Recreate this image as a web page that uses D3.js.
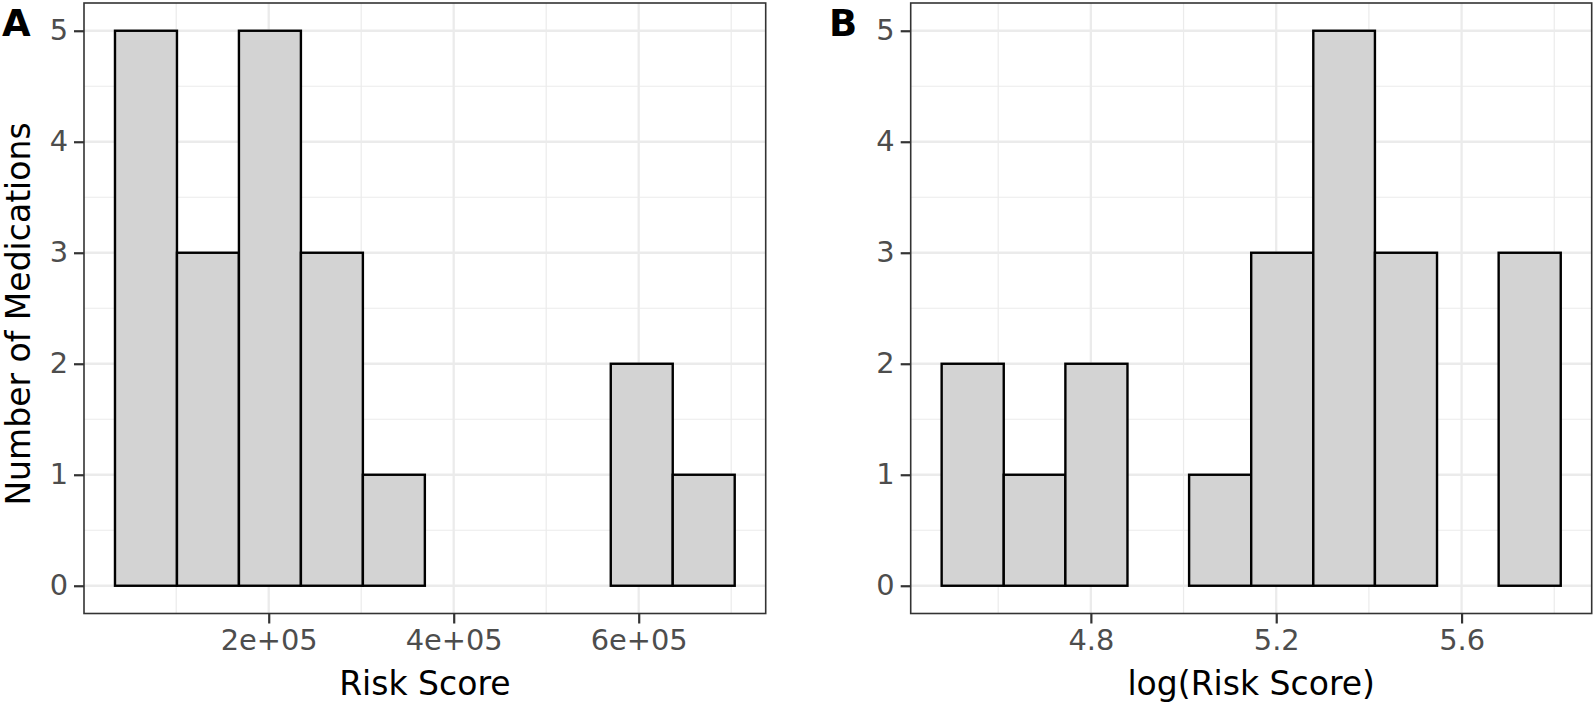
<!DOCTYPE html>
<html>
<head>
<meta charset="utf-8">
<script src="https://cdn.jsdelivr.net/npm/d3@7"></script>
<style>
  html, body { margin: 0; padding: 0; background: #fff; }
  svg { display: block; font-family: "DejaVu Sans", sans-serif; }
</style>
</head>
<body>
<svg id="chart" width="1594" height="706"></svg>
<script>
// ---------- data ----------
// Panel A: histogram of Risk Score
const edgesA  = [33800, 100800, 167800, 234800, 301800, 368800, 435800, 502800, 569800, 636800, 703800];
const countsA = [5, 3, 5, 3, 1, 0, 0, 0, 2, 1];
const ticksA  = [200000, 400000, 600000];
const tickLabelsA = ["2e+05", "4e+05", "6e+05"];
const minorA  = [100000, 300000, 500000, 700000];

// Panel B: histogram of log(Risk Score)
const edgesB  = [4.478, 4.612, 4.745, 4.879, 5.012, 5.146, 5.280, 5.413, 5.547, 5.680, 5.814];
const countsB = [2, 1, 2, 0, 1, 3, 5, 3, 0, 3];
const ticksB  = [4.8, 5.2, 5.6];
const tickLabelsB = ["4.8", "5.2", "5.6"];
const minorB  = [4.6, 5.0, 5.4, 5.8];

const yTicks = [0, 1, 2, 3, 4, 5];
const yMinor = [0.5, 1.5, 2.5, 3.5, 4.5];
const yTitle = "Number of Medications";

const panels = [
  { tag: "A", edges: edgesA, counts: countsA, ticks: ticksA, labels: tickLabelsA, minor: minorA,
    title: "Risk Score", left: 84, right: 765.7, tagX: 2 },
  { tag: "B", edges: edgesB, counts: countsB, ticks: ticksB, labels: tickLabelsB, minor: minorB,
    title: "log(Risk Score)", left: 910.7, right: 1591.7, tagX: 829 }
];

const pTop = 3, pBottom = 613.5;
const svg = d3.select("#chart");

// measure font sizes so text widths match the reference
function fitSize(str, targetWidth, weight) {
  const t = svg.append("text").attr("font-size", 100).attr("font-weight", weight || "normal").text(str);
  const w = t.node().getComputedTextLength();
  t.remove();
  return w > 0 ? 100 * targetWidth / w : 30;
}
const titleSize = fitSize("Risk Score", 171.5);
const tickSize = fitSize("2e+05", 97);

const y = d3.scaleLinear().domain([-0.25, 5.25]).range([pBottom, pTop]);

panels.forEach(p => {
  const lo = p.edges[0], hi = p.edges[p.edges.length - 1];
  const pad = (hi - lo) * 0.05;
  const x = d3.scaleLinear().domain([lo - pad, hi + pad]).range([p.left, p.right]);
  const g = svg.append("g");

  g.append("rect").attr("x", p.left).attr("y", pTop)
    .attr("width", p.right - p.left).attr("height", pBottom - pTop).attr("fill", "#fff");

  // minor grid
  g.selectAll(".vminor").data(p.minor).join("line")
    .attr("x1", d => x(d)).attr("x2", d => x(d)).attr("y1", pTop).attr("y2", pBottom)
    .attr("stroke", "#EBEBEB").attr("stroke-width", 1.2);
  g.selectAll(".hminor").data(yMinor).join("line")
    .attr("x1", p.left).attr("x2", p.right).attr("y1", d => y(d)).attr("y2", d => y(d))
    .attr("stroke", "#EBEBEB").attr("stroke-width", 1.2);
  // major grid
  g.selectAll(".vmajor").data(p.ticks).join("line")
    .attr("x1", d => x(d)).attr("x2", d => x(d)).attr("y1", pTop).attr("y2", pBottom)
    .attr("stroke", "#EBEBEB").attr("stroke-width", 2.3);
  g.selectAll(".hmajor").data(yTicks).join("line")
    .attr("x1", p.left).attr("x2", p.right).attr("y1", d => y(d)).attr("y2", d => y(d))
    .attr("stroke", "#EBEBEB").attr("stroke-width", 2.3);

  // bars
  const bins = p.counts.map((c, i) => ({ x0: p.edges[i], x1: p.edges[i + 1], n: c }));
  g.selectAll(".bar").data(bins).join("rect")
    .attr("x", d => x(d.x0)).attr("width", d => x(d.x1) - x(d.x0))
    .attr("y", d => y(d.n)).attr("height", d => y(0) - y(d.n))
    .attr("fill", "#D3D3D3").attr("stroke", "#000").attr("stroke-width", 2.4);

  // panel border
  g.append("rect").attr("x", p.left).attr("y", pTop)
    .attr("width", p.right - p.left).attr("height", pBottom - pTop)
    .attr("fill", "none").attr("stroke", "#333333").attr("stroke-width", 1.6);

  // x axis
  const xAxis = d3.axisBottom(x).tickValues(p.ticks).tickFormat((d, i) => p.labels[i])
    .tickSize(10).tickPadding(6);
  const xa = g.append("g").attr("transform", `translate(0,${pBottom})`).call(xAxis);
  xa.select(".domain").remove();
  xa.selectAll(".tick line").attr("stroke", "#333333").attr("stroke-width", 2.2);
  xa.selectAll(".tick text").attr("fill", "#4D4D4D").attr("font-size", tickSize)
    .attr("font-family", "DejaVu Sans");

  // y axis
  const yAxis = d3.axisLeft(y).tickValues(yTicks).tickFormat(d3.format("d"))
    .tickSize(10).tickPadding(6);
  const ya = g.append("g").attr("transform", `translate(${p.left},0)`).call(yAxis);
  ya.select(".domain").remove();
  ya.selectAll(".tick line").attr("stroke", "#333333").attr("stroke-width", 2.2);
  ya.selectAll(".tick text").attr("fill", "#4D4D4D").attr("font-size", tickSize)
    .attr("font-family", "DejaVu Sans");

  // x title
  g.append("text").attr("x", (p.left + p.right) / 2).attr("y", 695)
    .attr("text-anchor", "middle").attr("font-size", titleSize).attr("fill", "#000")
    .text(p.title);

  // tag
  g.append("text").attr("x", p.tagX).attr("y", 36)
    .attr("font-size", 37).attr("font-weight", "bold").attr("fill", "#000")
    .text(p.tag);
});

// y title (panel A only)
svg.append("text")
  .attr("transform", `translate(30,314) rotate(-90)`)
  .attr("text-anchor", "middle").attr("font-size", titleSize).attr("fill", "#000")
  .text(yTitle);
</script>
</body>
</html>
